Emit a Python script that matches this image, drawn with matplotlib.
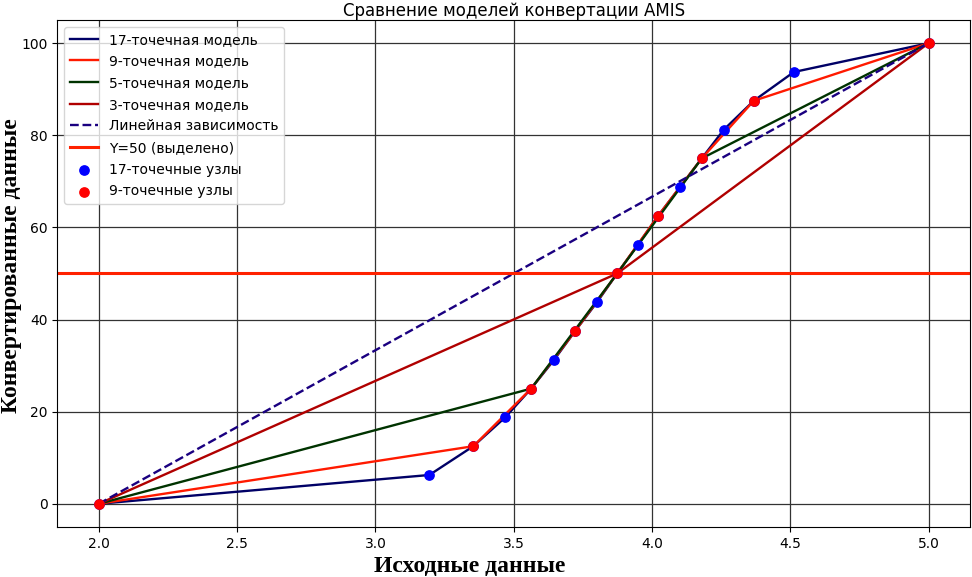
import matplotlib
matplotlib.use("Agg")
import matplotlib.pyplot as plt

# узлы 17-точечной модели (x - исходные, y - конвертированные)
x17 = [2.0, 3.195, 3.354, 3.469, 3.563, 3.646, 3.722, 3.801, 3.874,
       3.949, 4.022, 4.101, 4.18, 4.26, 4.368, 4.513, 5.0]
y17 = [0, 6.25, 12.5, 18.75, 25, 31.25, 37.5, 43.75, 50,
       56.25, 62.5, 68.75, 75, 81.25, 87.5, 93.75, 100]

x9 = [2.0, 3.354, 3.563, 3.722, 3.874, 4.022, 4.18, 4.368, 5.0]
y9 = [0, 12.5, 25, 37.5, 50, 62.5, 75, 87.5, 100]

x5 = [2.0, 3.563, 3.874, 4.18, 5.0]
y5 = [0, 25, 50, 75, 100]

x3 = [2.0, 3.874, 5.0]
y3 = [0, 50, 100]

x_lin = [2.0, 5.0]
y_lin = [0, 100]

y_mark = 50

fig = plt.figure(figsize=(9.72, 5.77), dpi=100)
ax = fig.add_subplot()

ax.plot(x17, y17, color="#000066", lw=1.7, label="17-точечная модель")
ax.plot(x9, y9, color="#ff1a00", lw=1.7, label="9-точечная модель")
ax.plot(x5, y5, color="#003300", lw=1.7, label="5-точечная модель")
ax.plot(x3, y3, color="#b00000", lw=1.7, label="3-точечная модель")
ax.plot(x_lin, y_lin, color="#1a0080", lw=1.7, ls="--", label="Линейная зависимость")
ax.axhline(y_mark, color="#ff2200", lw=2.2, label="Y=50 (выделено)")
ax.scatter(x17, y17, color="blue", s=45, zorder=3, label="17-точечные узлы")
ax.scatter(x9, y9, color="red", s=45, zorder=4, label="9-точечные узлы")

ax.grid(True, color="#333333", lw=0.9)
ax.set_title("Сравнение моделей конвертации AMIS", fontsize=12, pad=3)
ax.set_xlabel("Исходные данные", family="Liberation Serif", fontweight="bold", fontsize=17)
ax.set_ylabel("Конвертированные данные", family="Liberation Serif", fontweight="bold", fontsize=17)
ax.xaxis.set_label_coords(0.452, -0.058)
ax.yaxis.set_label_coords(-0.039, 0.515)
ax.legend(loc="upper left", fontsize=10, borderaxespad=0.5, labelspacing=0.55)

plt.subplots_adjust(left=0.059, right=0.998, top=0.965, bottom=0.087)
plt.savefig("out.png")
